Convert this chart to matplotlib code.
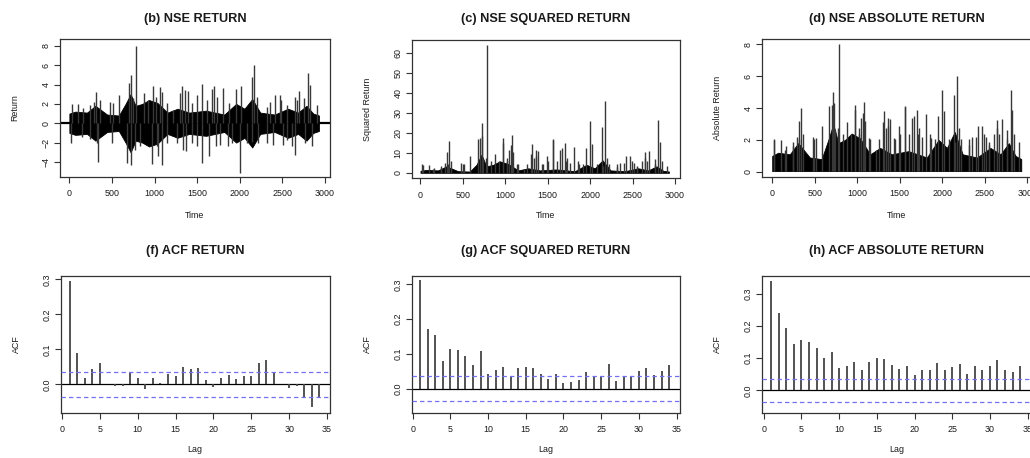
import numpy as np
import matplotlib
matplotlib.use("Agg")
import matplotlib.pyplot as plt

plt.rcParams['font.family'] = ['Liberation Sans', 'DejaVu Sans']

# ---------------- data ----------------
# Notable return spikes: (time, return)
spike_t = [27, 105, 160, 240, 292, 313, 360, 477, 512, 583, 704, 720, 743, 782, 880, 927,
           978, 1017, 1064, 1091, 1142, 1220, 1298, 1318, 1357, 1390, 1435, 1494, 1557,
           1611, 1672, 1701, 1729, 1807, 1873, 1956, 2020, 2140, 2170, 2198, 2315, 2352,
           2420, 2470, 2490, 2550, 2648, 2667, 2700, 2760, 2804, 2824, 2902,
           20, 145, 240, 320, 340, 497, 673, 724, 770, 830, 974, 1025, 1044, 1083, 1150,
           1259, 1338, 1365, 1440, 1500, 1560, 1643, 1717, 1768, 1858, 1912, 2002, 2081,
           2147, 2218, 2315, 2394, 2512, 2550, 2609, 2648, 2765, 2843]
spike_v = [2.0, 2.0, 1.6, 1.9, 2.2, 3.2, 2.4, 2.2, 2.1, 2.9, 4.2, 5.0, 2.6, 8.0, 3.1, 2.4,
           3.85, 2.75, 3.7, 3.2, 2.1, 1.4, 3.1, 3.8, 3.4, 3.3, 2.1, 2.9, 4.05,
           2.4, 3.5, 3.85, 2.75, 3.6, 2.1, 3.5, 3.8, 4.8, 6.0, 2.75, 1.7, 2.2,
           2.9, 2.9, 2.4, 1.9, 2.75, 2.4, 3.3, 2.6, 5.15, 3.9, 1.9,
           -2.05, -1.4, -1.6, -2.05, -4.0, -2.05, -4.1, -4.3, -2.75, -2.4, -4.2, -2.4, -3.4,
           -4.35, -2.05, -2.05, -2.75, -2.9, -2.05, -2.4, -4.1, -3.4, -2.4, -2.2, -2.4,
           -2.05, -5.1, -2.05, -1.9, -2.05, -2.05, -2.2, -2.2, -1.7, -2.4, -3.25, -2.05, -2.4]

# Dense core of the return series: typical magnitude of the black mass
core_t = [0, 70, 207, 306, 443, 581, 660, 719, 778, 857, 935, 1034, 1152, 1270, 1407,
          1604, 1820, 1958, 2056, 2147, 2241, 2410, 2568, 2686, 2784, 2863, 2930]
core_m = [1.0, 1.2, 1.1, 1.8, 0.9, 0.8, 2.0, 3.0, 1.8, 2.0, 2.4, 2.1, 1.1, 1.5, 1.1,
          1.3, 0.9, 2.0, 1.5, 2.5, 1.1, 0.9, 1.5, 1.1, 1.8, 1.0, 0.8]

lags = list(range(1, 35))
acf_ret = [0.294, 0.089, 0.019, 0.044, 0.060, 0.001, -0.005, -0.004, 0.033, 0.018,
           -0.014, 0.017, 0.005, 0.028, 0.023, 0.049, 0.044, 0.047, 0.012, -0.007,
           0.017, 0.026, 0.015, 0.023, 0.025, 0.060, 0.070, 0.036, 0.001, -0.011,
           -0.005, -0.037, -0.065, -0.035]
acf_sq = [0.3125, 0.171, 0.154, 0.079, 0.115, 0.112, 0.093, 0.068, 0.109, 0.043,
          0.053, 0.063, 0.033, 0.059, 0.061, 0.059, 0.043, 0.027, 0.041, 0.017,
          0.020, 0.024, 0.048, 0.033, 0.037, 0.072, 0.023, 0.035, 0.037, 0.050,
          0.059, 0.039, 0.050, 0.069]
acf_abs = [0.339, 0.241, 0.194, 0.145, 0.157, 0.149, 0.132, 0.099, 0.119, 0.068,
           0.074, 0.089, 0.063, 0.089, 0.099, 0.096, 0.079, 0.065, 0.077, 0.049,
           0.062, 0.063, 0.086, 0.063, 0.073, 0.082, 0.052, 0.074, 0.063, 0.076,
           0.093, 0.063, 0.057, 0.074]
ci = 0.0365

titles = ["(b) NSE RETURN", "(c) NSE SQUARED RETURN", "(d) NSE ABSOLUTE RETURN",
          "(f) ACF RETURN", "(g) ACF SQUARED RETURN", "(h) ACF ABSOLUTE RETURN"]
ylabels = ["Return", "Squared Return", "Absolute Return", "ACF", "ACF", "ACF"]

# ---------------- figure ----------------
W, H = 1030, 458
fig = plt.figure(figsize=(W / 100, H / 100), dpi=100)

def px_axes(l, t, r, b):
    return fig.add_axes([l / W, 1 - b / H, (r - l) / W, (b - t) / H])

TXT = '#1a1a1a'
SP = '#333333'
FS_T = 6.4

def style(ax):
    for s in ax.spines.values():
        s.set_color(SP)
        s.set_linewidth(0.9)
    ax.tick_params(direction='out', length=4, width=0.8, color=SP,
                   labelsize=FS_T, labelcolor=TXT)
    ax.tick_params(axis='x', pad=5)
    ax.tick_params(axis='y', pad=3)
    plt.setp(ax.get_yticklabels(), rotation=90, va='center')

boxes = [(60, 39, 330, 177), (412, 40, 680, 178), (762, 39, 1034, 177),
         (61, 276, 330, 413), (412, 276, 680, 413), (762, 276, 1034, 413)]
axs = [px_axes(*b) for b in boxes]

st = np.array(spike_t, dtype=float)
sv = np.array(spike_v, dtype=float)
ct = np.array(core_t, dtype=float)
cm = np.array(core_m, dtype=float)

SPK = '#383838'

# (b) return
ax = axs[0]
ax.axhline(0, color='black', lw=1.6, zorder=1)
ax.fill_between(ct, -cm, cm, color='black', lw=0.6, zorder=2)
ax.vlines(st, 0, sv, color=SPK, lw=1.0, zorder=3)
ax.set_xlim(-110, 3060)
ax.set_ylim(-5.55, 8.7)
ax.set_yticks([-4, -2, 0, 2, 4, 6, 8])

# (c) squared return
ax = axs[1]
ax.fill_between(ct, 0, cm ** 2, color='black', lw=0.6, zorder=2)
ax.vlines(st, 0, sv ** 2, color=SPK, lw=1.0, zorder=3)
ax.set_xlim(-100, 3060)
ax.set_ylim(-2.6, 66.5)
ax.set_yticks([0, 10, 20, 30, 40, 50, 60])

# (d) absolute return
ax = axs[2]
ax.fill_between(ct, 0.05, cm, color='black', lw=0.6, zorder=2)
ax.vlines(st, 0.05, np.abs(sv), color=SPK, lw=1.0, zorder=3)
ax.set_xlim(-120, 3080)
ax.set_ylim(-0.32, 8.32)
ax.set_yticks([0, 2, 4, 6, 8])

for ax in axs[:3]:
    ax.set_xticks([0, 500, 1000, 1500, 2000, 2500, 3000])

# ACF panels
acf_sets = [acf_ret, acf_sq, acf_abs]
ylims = [(-0.082, 0.3094), (-0.0704, 0.3243), (-0.0704, 0.355)]
xlims = [(-0.13, 35.4), (-0.09, 35.45), (-0.23, 35.85)]
for ax, vals, yl, xl in zip(axs[3:], acf_sets, ylims, xlims):
    ax.axhline(0, color='black', lw=0.9, zorder=1)
    ax.vlines(lags, 0, vals, color='#444444', lw=1.3, zorder=2)
    for c in (ci, -ci):
        ax.axhline(c, color='#7070f0', lw=0.9, ls=(0, (3.5, 2.5)), zorder=3)
    ax.set_xlim(*xl)
    ax.set_ylim(*yl)
    ax.set_xticks([0, 5, 10, 15, 20, 25, 30, 35])
    ax.set_yticks([0.0, 0.1, 0.2, 0.3])
    ax.set_yticklabels(["0.0", "0.1", "0.2", "0.3"])

for ax in axs:
    style(ax)

# titles and axis labels (R style placement)
centers = [195, 546, 896.5, 195, 546, 896.5]
for (l, t, r, b), cx, title, yl, i in zip(boxes, centers, titles, ylabels, range(6)):
    ty = 19 if i < 3 else 251
    fig.text(cx / W, 1 - ty / H, title, ha='center', va='center',
             fontsize=9.2, fontweight='bold', color=TXT)
    xlab = "Time" if i < 3 else "Lag"
    xly = 215 if i < 3 else 450
    fig.text(cx / W, 1 - xly / H, xlab, ha='center', va='center',
             fontsize=FS_T, color=TXT)
    ylx = l - 45
    fig.text(ylx / W, 1 - ((t + b) / 2) / H, yl, ha='center', va='center',
             rotation=90, fontsize=FS_T, color=TXT)

fig.savefig("out.png", dpi=100)
